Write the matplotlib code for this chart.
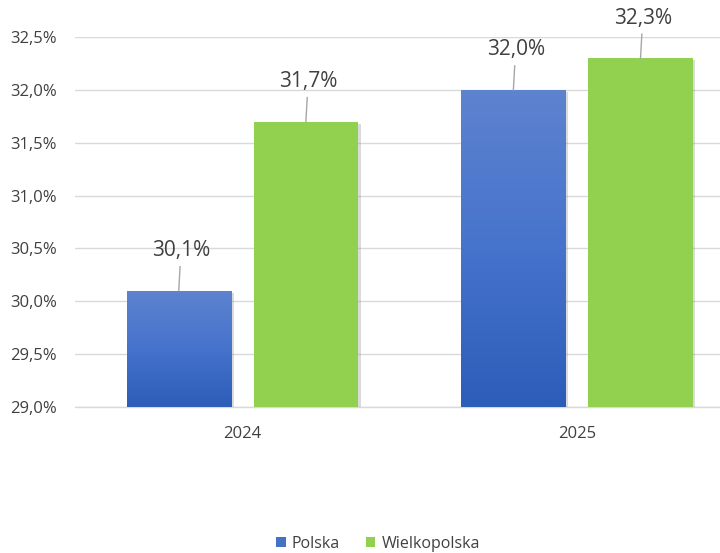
import matplotlib
matplotlib.use("Agg")
import matplotlib.pyplot as plt
import numpy as np
from matplotlib.colors import LinearSegmentedColormap
from matplotlib.patches import Patch
import matplotlib.patheffects as pe

categories = ["2024", "2025"]
series_names = ["Polska", "Wielkopolska"]
polska = [30.1, 32.0]
wielkopolska = [31.7, 32.3]
ytick_vals = [29.0, 29.5, 30.0, 30.5, 31.0, 31.5, 32.0, 32.5]

plt.rcParams['font.family'] = ['Open Sans', 'DejaVu Sans']

W, H = 720, 553
fig = plt.figure(figsize=(W/100, H/100), dpi=100)
ax = fig.add_axes([75/W, (H-407)/H, (720-75)/W, (407-37)/H])

ax.set_ylim(29.0, 32.5)
ax.set_xlim(-0.5, 1.4275)

x = np.arange(len(categories))
bw = 0.311
off = 0.19

blue_cmap = LinearSegmentedColormap.from_list("b", ["#2c5db8", "#4673cc", "#5e83cf"])
green = "#92d050"

def fmt(v):
    return f"{v:.1f}".replace(".", ",") + "%"

shadow = [pe.SimplePatchShadow(offset=(2.0, -1.5), shadow_rgbFace="#888888", alpha=0.3), pe.Normal()]

bars_p = ax.bar(x - off, polska, bw, bottom=0, color="#4472c4", zorder=3, path_effects=shadow)
bars_w = ax.bar(x + off, wielkopolska, bw, bottom=0, color=green, zorder=3, path_effects=shadow)

grad = np.linspace(0, 1, 256).reshape(-1, 1)
for b in bars_p:
    x0, w = b.get_x(), b.get_width()
    top = b.get_height()
    im = ax.imshow(grad, cmap=blue_cmap, aspect="auto",
                   extent=[x0, x0 + w, 29.0, top], origin="lower", zorder=3.5,
                   interpolation="bilinear")
    im.set_clip_path(b)

# data labels with leader lines
px_per_unit = (407 - 37) / 3.5
for bars, vals in ((bars_p, polska), (bars_w, wielkopolska)):
    for b, v in zip(bars, vals):
        cx = b.get_x() + b.get_width() / 2
        ax.plot([cx, cx + 0.004], [v, v + 24 / px_per_unit], color="#a6a6a6", lw=1, zorder=4, clip_on=False)
        ax.text(cx + 0.008, v + 40 / px_per_unit, fmt(v), ha="center", va="center",
                fontsize=15, color="#404040", zorder=5, clip_on=False)

ax.set_yticks(ytick_vals)
ax.set_yticklabels([fmt(v) for v in ytick_vals], fontsize=12, color="#404040")
ax.set_xticks(x)
ax.set_xticklabels(categories, fontsize=12, color="#404040")
ax.tick_params(axis="both", length=0)
ax.tick_params(axis="y", pad=13)
ax.tick_params(axis="x", pad=14)

ax.grid(axis="y", color="#d9d9d9", lw=1, zorder=0)
ax.set_axisbelow(True)
for s in ("top", "right", "left"):
    ax.spines[s].set_visible(False)
ax.spines["bottom"].set_color("#d9d9d9")
ax.spines["bottom"].set_linewidth(1)

handles = [Patch(facecolor="#4472c4", edgecolor="none"), Patch(facecolor=green, edgecolor="none")]
fig.legend(handles, series_names, loc="center", bbox_to_anchor=(378/W, 9/H), ncol=2,
           frameon=False, fontsize=11.5, handlelength=0.6, handleheight=0.6,
           handletextpad=0.4, columnspacing=1.6, labelcolor="#404040")

fig.savefig("out.png", dpi=100)
